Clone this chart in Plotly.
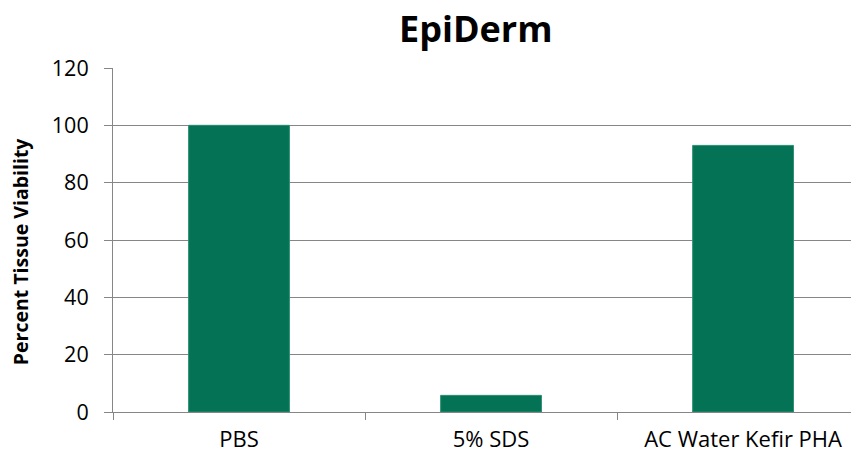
import plotly.graph_objects as go

categories = ["PBS", "5% SDS", "AC Water Kefir PHA"]
values = [100, 5.8, 93]
y_ticks = [0, 20, 40, 60, 80, 100, 120]
y_title = "Percent Tissue Viability"

FONT = "Open Sans"
GRAY = "#868686"

fig = go.Figure(
    go.Bar(
        x=categories,
        y=values,
        width=0.4,
        marker=dict(color="#047355", line=dict(color="#2e8f72", width=1)),
    )
)

fig.update_layout(
    width=851,
    height=449,
    margin=dict(l=105, r=0, t=59.5, b=45),
    paper_bgcolor="white",
    plot_bgcolor="white",
    showlegend=False,
    font=dict(family=FONT, color="black"),
)

# Chart title as a paper annotation (positioned to match the reference)
fig.add_annotation(
    text="<b>EpiDerm</b>",
    xref="paper",
    yref="paper",
    x=(468 - 105) / 746,
    y=(404 - 20) / 344.5,
    xanchor="center",
    yanchor="middle",
    showarrow=False,
    font=dict(family=FONT, size=36, color="black"),
)

fig.add_annotation(
    text="<b>" + y_title + "</b>",
    textangle=-90,
    xref="paper",
    yref="paper",
    x=-(105 - 12) / 746,
    y=(404 - 243) / 344.5,
    xanchor="center",
    yanchor="middle",
    showarrow=False,
    font=dict(family=FONT, size=19.5, color="black"),
)

fig.update_xaxes(
    range=[-0.5, 2.46],
    showline=True,
    linecolor=GRAY,
    linewidth=1,
    ticks="outside",
    tickson="boundaries",
    ticklen=7,
    tickcolor=GRAY,
    ticklabelstandoff=8,
    tickfont=dict(family=FONT, size=22, color="black"),
    showgrid=False,
)

fig.update_yaxes(
    range=[0, 120],
    tickvals=y_ticks,
    showline=True,
    linecolor=GRAY,
    linewidth=1,
    ticks="outside",
    ticklen=8,
    tickcolor=GRAY,
    ticklabelstandoff=11,
    showgrid=True,
    gridcolor=GRAY,
    gridwidth=1,
    zeroline=False,
    tickfont=dict(family=FONT, size=21.5, color="black"),
)

fig.write_html("out.html")
